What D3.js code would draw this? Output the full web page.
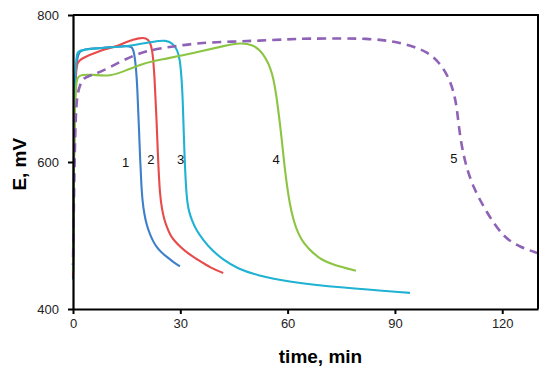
<!DOCTYPE html>
<html>
<head>
<meta charset="utf-8">
<script src="https://cdn.jsdelivr.net/npm/d3@7/dist/d3.min.js"></script>
<style>
  html, body { margin: 0; padding: 0; background: #fff; }
  svg { display: block; }
</style>
</head>
<body>
<svg id="chart" width="550" height="372"></svg>
<script>
// ---- data ----
const xTicks = [0, 30, 60, 90, 120];
const yTicks = [400, 600, 800];

const t1 = [0, 0.3, 0.7, 1.5, 4, 8, 12, 15, 16.4, 17.0, 17.6, 18.0, 18.4, 18.8, 19.1, 19.4, 19.9, 20.6, 21.5, 22.4, 23.4, 24.7, 26.2, 28, 29.9];
const e1 = [440, 640, 730, 752, 754, 755, 757, 758, 757, 752, 730, 700, 650, 600, 570, 548, 530, 514, 502, 492, 484, 477, 471, 464, 458];

const t2 = [0, 0.3, 0.7, 1.1, 2, 7.5, 12.3, 15, 18.7, 20.5, 21.5, 22.3, 22.8, 23.3, 23.8, 24.3, 24.9, 25.5, 26.2, 27.2, 28.5, 29.9, 32, 35.5, 38.5, 42];
const e2 = [445, 640, 715, 735, 740, 752, 757, 764, 769, 769, 764, 750, 715, 665, 600, 555, 535, 522, 512, 500, 492, 485, 476, 465, 456, 449];

const t3 = [0, 0.3, 0.7, 1.2, 2, 7.5, 16.8, 22.4, 26.2, 28, 29.2, 29.9, 30.4, 30.7, 31.2, 31.8, 32.4, 33.2, 34.5, 36.4, 38.8, 42, 46, 51.3, 60, 75, 94.2];
const e3 = [450, 650, 735, 750, 752, 755, 758, 764, 766, 761, 752, 740, 711, 684, 600, 548, 533, 521, 507, 494, 480, 467, 455, 446, 437, 429, 422];

const t4 = [0, 0.3, 0.8, 1.5, 5.6, 10.3, 15, 19.6, 24.3, 33.6, 43, 46.7, 50.3, 53.1, 55.9, 57.3, 58.4, 59.3, 60.7, 61.7, 62.9, 64.5, 67.1, 69.5, 72.7, 79.1];
const e4 = [450, 640, 710, 719, 719, 716, 725, 734, 739, 748, 759, 762, 760, 749, 723, 675, 630, 585, 539, 520, 503, 489, 476, 467, 460, 452];

const t5 = [0, 0.3, 0.6, 1, 2, 2.8, 5, 7.5, 12.3, 16.8, 21.5, 26, 30.8, 35.5, 45, 52, 60, 66, 75, 82, 88.6, 94.2, 99, 102.6, 105.4, 106.8, 107.4, 108.2, 109.6, 111.8, 115.7, 120.2, 125, 130];
const e5 = [460, 560, 640, 690, 705, 714, 718, 722, 734, 745, 752, 756, 759, 762, 764, 765, 767, 768, 768, 768, 765, 759, 750, 735, 712, 688, 670, 634, 599, 566, 531, 498, 484, 476];

const curveNames = ["1", "2", "3", "4", "5"];
const curveColors = ["#3d7fca", "#e84a4a", "#1fb2d2", "#8cc444", "#8e62b7"];
const labelT = [14.7, 21.8, 30.1, 56.8, 106.5];
const labelE = [600, 603, 603, 604, 605];

const xTitle = "time, min";
const yTitle = "E, mV";

// ---- chart ----
const svg = d3.select("#chart");
const x = d3.scaleLinear().domain([0, 130]).range([73, 538]);
const y = d3.scaleLinear().domain([400, 800]).range([309, 15]);

const series = [
  d3.zip(t1, e1), d3.zip(t2, e2), d3.zip(t3, e3), d3.zip(t4, e4), d3.zip(t5, e5)
];

const line = d3.line()
  .x(d => x(d[0]))
  .y(d => y(d[1]))
  .curve(d3.curveBasis);

series.forEach((s, i) => {
  const p = svg.append("path")
    .attr("d", line(s))
    .attr("fill", "none")
    .attr("stroke", curveColors[i])
    .attr("stroke-width", i === 4 ? 2.6 : 2.1)
    .attr("stroke-linejoin", "round");
  if (i === 4) {
    const L = p.node().getTotalLength();
    const off = ((9 - L) % 15 + 15) % 15;
    p.attr("stroke-dasharray", "9,6").attr("stroke-dashoffset", off);
  }
});

// frame top/right
svg.append("path")
  .attr("d", `M${x(0)},${y(800)}H${x(130)}V${y(400)}`)
  .attr("fill", "none").attr("stroke", "#000").attr("stroke-width", 2);

const xAxis = svg.append("g")
  .attr("transform", `translate(0,${y(400)})`)
  .call(d3.axisBottom(x).tickValues(xTicks).tickSize(5).tickSizeOuter(0).tickPadding(5));
const yAxis = svg.append("g")
  .attr("transform", `translate(${x(0)},0)`)
  .call(d3.axisLeft(y).tickValues(yTicks).tickSize(5).tickSizeOuter(0).tickPadding(9));

[xAxis, yAxis].forEach(g => {
  g.select(".domain").attr("stroke", "#000").attr("stroke-width", 2.2);
  g.selectAll(".tick line").attr("stroke", "#000").attr("stroke-width", 2);
  g.selectAll(".tick text")
    .attr("font-family", "Liberation Sans, Arial, sans-serif")
    .attr("font-size", 13).attr("fill", "#222");
});

svg.append("text")
  .attr("x", (x(0) + x(130)) / 2 + 15).attr("y", 363)
  .attr("text-anchor", "middle")
  .attr("font-family", "Liberation Sans, Arial, sans-serif")
  .attr("font-weight", "bold").attr("font-size", 19)
  .text(xTitle);

svg.append("text")
  .attr("transform", `translate(25.5,${y(597)}) rotate(-90)`)
  .attr("text-anchor", "middle")
  .attr("font-family", "Liberation Sans, Arial, sans-serif")
  .attr("font-weight", "bold").attr("font-size", 19)
  .text(yTitle);

curveNames.forEach((n, i) => {
  svg.append("text")
    .attr("x", x(labelT[i])).attr("y", y(labelE[i]))
    .attr("text-anchor", "middle").attr("dominant-baseline", "central")
    .attr("font-family", "Liberation Sans, Arial, sans-serif")
    .attr("font-size", 13).attr("fill", "#111")
    .text(n);
});
</script>
</body>
</html>
